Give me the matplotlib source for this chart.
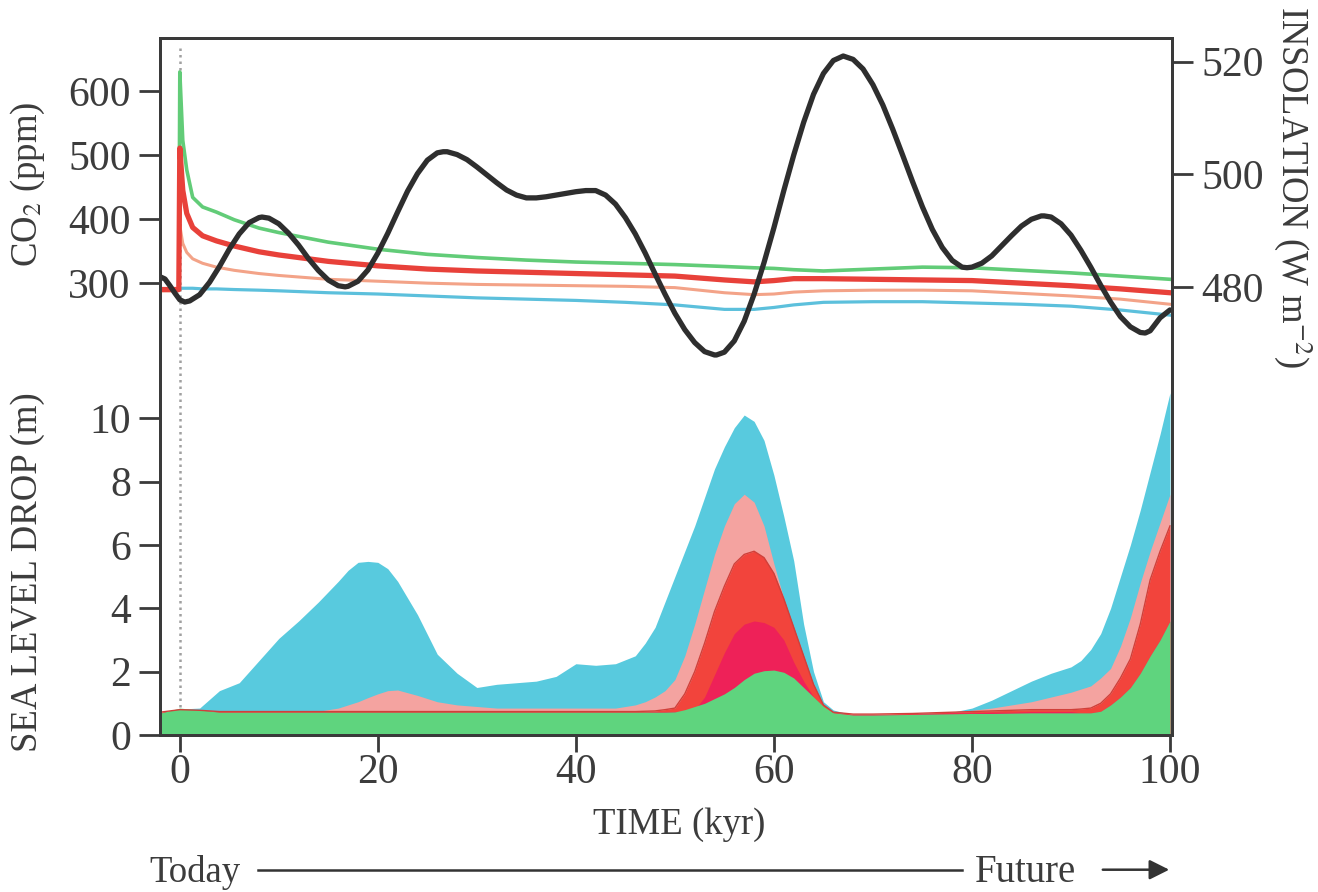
import matplotlib
matplotlib.use("Agg")
import matplotlib.pyplot as plt
from matplotlib.lines import Line2D
from matplotlib.patches import FancyArrowPatch

plt.rcParams['font.family'] = ['Liberation Serif', 'DejaVu Serif']
plt.rcParams['mathtext.fontset'] = 'stix'

# insolation (W m-2), black curve
t_ins = [-2, -1.5, -1, -0.5, 0, 0.5, 1, 2, 3, 4, 5, 6, 7, 8, 8.3, 9, 10, 11, 12,
         13, 14, 15, 16, 16.7, 17, 18, 19, 20, 21, 22, 23, 24, 25, 26, 26.6, 27,
         28, 29, 30, 31, 32, 33, 34, 35, 35.4, 36, 37, 38, 39, 40, 41, 41.7, 42,
         43, 44, 45, 46, 47, 48, 49, 50, 51, 52, 53, 54, 54.2, 55, 56, 57, 58, 59,
         60, 61, 62, 63, 64, 65, 66, 67, 68, 69, 70, 71, 72, 73, 74, 75, 76, 77,
         78, 79, 79.5, 80, 81, 82, 83, 84, 85, 86, 87, 87.3, 88, 89, 90, 91, 92,
         93, 94, 95, 96, 97, 97.5, 98, 99, 100]
insolation = [481.8, 481.4, 480.2, 478.9, 477.7, 477.3, 477.5, 478.6, 480.8, 483.6,
              486.7, 489.4, 491.4, 492.3, 492.4, 492.2, 491.2, 489.5, 487.4, 485.0,
              482.9, 481.2, 480.2, 480.0, 480.1, 481.0, 483.0, 486.0, 489.5, 493.3,
              497.0, 500.1, 502.5, 503.8, 504.0, 504.0, 503.5, 502.6, 501.3, 499.9,
              498.5, 497.2, 496.3, 495.8, 495.8, 495.8, 496.0, 496.3, 496.6, 496.9,
              497.1, 497.1, 497.1, 496.3, 494.7, 492.3, 489.4, 486.0, 482.3, 478.7,
              475.3, 472.4, 470.1, 468.5, 467.9, 467.9, 468.4, 470.4, 473.9, 478.7,
              484.3, 490.5, 497.1, 503.4, 509.2, 514.2, 517.9, 520.2, 521.0, 520.4,
              518.7, 515.9, 512.3, 508.0, 503.4, 498.7, 494.2, 490.2, 487.0, 484.7,
              483.5, 483.4, 483.5, 484.2, 485.5, 487.3, 489.1, 490.8, 492.0, 492.6,
              492.6, 492.4, 491.2, 489.2, 486.5, 483.5, 480.3, 477.3, 474.7, 472.9,
              471.9, 471.8, 472.2, 474.5, 475.9]

# CO2 scenarios (ppm)
t_co2 = [-2, -0.1, 0, 0.3, 0.7, 1.3, 2.3, 3.7, 5.5, 8, 10, 15, 20, 25, 30, 35, 40,
         45, 50, 55, 58, 60, 62, 65, 70, 75, 80, 85, 90, 95, 100]
co2_green = [290, 290, 630, 523, 477, 434, 419, 411, 399, 386, 379, 364, 353, 345,
             340, 336, 333, 331, 329, 326, 324, 323, 321, 319, 322, 325, 324, 320,
             316, 311, 306]
co2_red = [290, 290, 511, 445, 409, 387, 374, 366, 358, 349, 344, 334, 327, 322,
           319, 317, 315, 313, 311, 305, 302, 304, 307, 307, 306, 305, 304, 300,
           296, 291, 285]
co2_salmon = [288, 288, 390, 362, 348, 338, 331, 325, 320, 315, 312, 306, 303, 300,
              298, 297, 296, 295, 293, 285, 282, 283, 286, 288, 289, 289, 288, 284,
              280, 275, 267]
co2_cyan = [291, 291, 292, 292, 292, 292, 291, 291, 290, 289, 288, 285, 283, 280,
            277, 275, 273, 270, 266, 259, 259, 262, 266, 270, 271, 271, 269, 267,
            264, 258, 250]

# sea level drop (m)
t_sea = [-2, 0, 2, 4, 6, 8, 10, 12, 14, 16, 17, 18, 19, 20, 21, 22, 24, 26, 28, 30,
         32, 34, 36, 38, 40, 42, 44, 46, 47, 48, 49, 50, 51, 52, 53, 54, 55, 56, 57,
         58, 59, 60, 61, 62, 63, 64, 65, 66, 68, 70, 72, 74, 76, 78, 80, 82, 84, 86,
         88, 90, 91, 92, 93, 94, 95, 96, 97, 98, 99, 100]
sea_cyan = [0.69, 0.82, 0.85, 1.4, 1.65, 2.35, 3.05, 3.6, 4.2, 4.85,
            5.2, 5.45, 5.48, 5.45, 5.25, 4.85,
            3.8, 2.55, 1.95, 1.5, 1.6, 1.65, 1.7, 1.85, 2.25, 2.2, 2.25, 2.5,
            2.9, 3.4, 4.2, 5.0, 5.8, 6.6, 7.5, 8.4, 9.1, 9.7, 10.1, 9.9, 9.3, 8.2,
            6.9, 5.5, 3.5, 2.0, 1.05, 0.79,
            0.63, 0.63, 0.65, 0.67, 0.7, 0.72, 0.85, 1.1, 1.4, 1.7, 1.95, 2.15,
            2.35, 2.7, 3.2, 4.0, 5.0, 6.0, 7.1, 8.3, 9.5, 10.8]
sea_salmon = [0.69, 0.8, 0.78, 0.75, 0.75, 0.75, 0.75, 0.75, 0.75, 0.85,
              0.95, 1.05, 1.18, 1.3, 1.4, 1.42,
              1.25, 1.05, 0.95, 0.9, 0.85, 0.85, 0.85, 0.85, 0.85, 0.85, 0.85, 0.95,
              1.05, 1.2, 1.4, 1.75, 2.5, 3.5, 4.6, 5.7, 6.6, 7.3, 7.6, 7.35, 6.6,
              5.4, 4.3, 3.3, 2.2, 1.3, 0.85, 0.7,
              0.63, 0.63, 0.65, 0.67, 0.7, 0.72, 0.78, 0.85, 0.95, 1.05, 1.2, 1.35,
              1.45, 1.55, 1.8, 2.1, 2.8, 3.7, 4.8, 5.8, 6.7, 7.6]
sea_red = [0.72, 0.8, 0.78, 0.74, 0.74, 0.74, 0.74, 0.74, 0.74, 0.74,
           0.74, 0.74, 0.74, 0.74, 0.74, 0.74,
           0.74, 0.74, 0.74, 0.74, 0.74, 0.74, 0.74, 0.74, 0.74, 0.74, 0.74, 0.74,
           0.75, 0.76, 0.8, 0.85, 1.3, 2.0, 2.9, 3.9, 4.7, 5.4, 5.7, 5.8, 5.6, 5.1,
           4.3, 3.4, 2.5, 1.6, 0.95, 0.72,
           0.66, 0.66, 0.67, 0.68, 0.7, 0.72, 0.74, 0.76, 0.78, 0.8, 0.8, 0.8,
           0.82, 0.85, 1.0, 1.3, 1.8, 2.4, 3.5, 4.9, 5.8, 6.6]
sea_crimson = [0.7, 0.8, 0.78, 0.72, 0.72, 0.72, 0.72, 0.72, 0.72, 0.72,
               0.72, 0.72, 0.72, 0.72, 0.72, 0.72,
               0.72, 0.72, 0.72, 0.72, 0.72, 0.72, 0.72, 0.72, 0.72, 0.72, 0.72,
               0.72, 0.72, 0.73, 0.73, 0.74, 0.75, 0.8, 1.2, 1.9, 2.6, 3.2, 3.5, 3.6,
               3.55, 3.4, 3.0, 2.3, 1.7, 1.2, 0.85, 0.7,
               0.64, 0.64, 0.65, 0.66, 0.68, 0.7, 0.7, 0.72, 0.72, 0.74, 0.74, 0.74,
               0.7, 0.7, 0.75, 0.95, 1.2, 1.5, 1.95, 2.5, 3.0, 3.6]
sea_green = [0.69, 0.85, 0.79, 0.72, 0.72, 0.72, 0.72, 0.72, 0.72, 0.72,
             0.72, 0.72, 0.72, 0.72, 0.72, 0.72,
             0.72, 0.72, 0.72, 0.72, 0.72, 0.72, 0.72, 0.72, 0.72, 0.72, 0.72, 0.72,
             0.72, 0.72, 0.72, 0.73, 0.8, 0.9, 1.0, 1.15, 1.3, 1.5, 1.75, 1.95, 2.03,
             2.05, 1.98, 1.8, 1.5, 1.2, 0.9, 0.7,
             0.63, 0.63, 0.64, 0.65, 0.66, 0.67, 0.68, 0.68, 0.69, 0.7, 0.7, 0.7,
             0.7, 0.7, 0.75, 0.95, 1.2, 1.5, 1.95, 2.5, 3.0, 3.6]

txt = '#3c3c3c'
fs_tick = 30
fs_lab = 26.5

fig = plt.figure(figsize=(13.18, 8.92), dpi=100)
ax = fig.add_axes([0.1214, 0.176, 0.7678, 0.7814])
ax.set_xlim(-2, 100.2)
ax.set_ylim(0, 22)

ax.fill_between(t_sea, 0, sea_cyan, color='#58cade', lw=0)
ax.fill_between(t_sea, 0, sea_salmon, color='#f4a3a0', lw=0)
ax.fill_between(t_sea, 0, sea_red, color='#f2443c', lw=0)
ax.fill_between(t_sea, 0, sea_crimson, color='#ee2158', lw=0)
ax.fill_between(t_sea, 0, sea_green, color='#5fd47e', lw=0)
ax.plot(t_sea, sea_red, color='#d0403a', lw=1.0)
ax.axvline(0, ymin=0.04, ymax=0.99, color='#a0a0a0', lw=1.8, ls=(0, (1, 1.6)))

ax.set_xticks([0, 20, 40, 60, 80, 100])
ax.set_yticks([0, 2, 4, 6, 8, 10])

ax2 = ax.twinx()
ax2.set_ylim(-406, 683)
ax2.plot(t_co2, co2_cyan, color='#5cc0dc', lw=2.3)
ax2.plot(t_co2, co2_salmon, color='#f3a388', lw=2.2)
ax2.plot(t_co2, co2_green, color='#62cc78', lw=2.6)
ax2.plot(t_co2, co2_red, color='#e8413a', lw=3.8)
ax2.yaxis.tick_left()
ax2.set_yticks([300, 400, 500, 600])

ax3 = ax.twinx()
ax3.set_ylim(400.4, 524.2)
ax3.plot(t_ins, insolation, color='#2e2e2e', lw=3.8, solid_capstyle='round',
         solid_joinstyle='round')
ax3.set_yticks([480, 500, 520])

for a in (ax, ax2, ax3):
    for s in a.spines.values():
        s.set_color('#3a3a3a')
        s.set_linewidth(2)
    a.tick_params(axis='y', direction='out', length=15, width=2, color='#3a3a3a',
                  labelsize=fs_tick, labelcolor=txt, pad=6)
ax.tick_params(axis='x', direction='out', length=12, width=2, color='#3a3a3a',
               labelsize=fs_tick, labelcolor=txt, pad=1)

fig.text(0.021, 0.793, 'CO$_2$ (ppm)', rotation=90, ha='center', va='center',
         fontsize=fs_lab, color=txt)
fig.text(0.021, 0.359, 'SEA LEVEL DROP (m)', rotation=90, ha='center', va='center',
         fontsize=fs_lab, color=txt)
fig.text(0.981, 0.79, 'INSOLATION (W m$^{-2}$)', rotation=-90, ha='center',
         va='center', fontsize=fs_lab, color=txt)
fig.text(0.515, 0.075, 'TIME (kyr)', ha='center', va='center', fontsize=fs_lab,
         color=txt)

fig.text(0.113, 0.022, 'Today', ha='left', va='center', fontsize=fs_lab, color=txt)
fig.add_artist(Line2D([258 / 1318, 962 / 1318], [0.025, 0.025], color='#333333',
                      lw=1.8, transform=fig.transFigure))
fig.text(0.740, 0.022, 'Future', ha='left', va='center', fontsize=28, color=txt)
fig.add_artist(FancyArrowPatch((1100 / 1318, 0.025), (1172 / 1318, 0.025),
                               transform=fig.transFigure, arrowstyle='-|>',
                               mutation_scale=30, color='#333333', lw=1.8))

fig.savefig('out.png', dpi=100)
